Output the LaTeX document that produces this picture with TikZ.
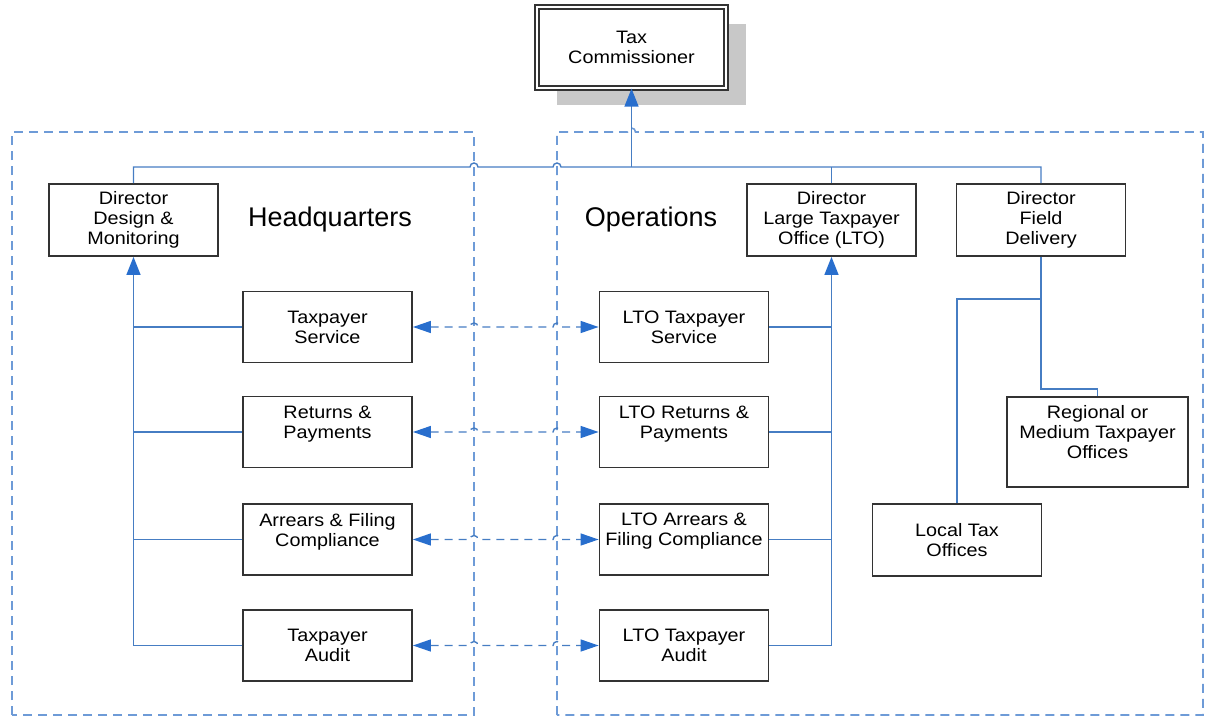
\documentclass[tikz,border=0pt]{standalone}
\usepackage{fontspec}
\setmainfont{Liberation Sans}
\newfontfamily\boxfont[FakeStretch=1.1]{Liberation Sans}
\usetikzlibrary{calc, positioning, arrows.meta, shadows}
\definecolor{LineBlue}{RGB}{70,125,195}
\definecolor{TipBlue}{RGB}{40,110,205}
\definecolor{FrameBlue}{RGB}{110,155,215}
\definecolor{ShadowGrey}{RGB}{200,200,200}

\tikzset{
  unit/.style={draw=black!80, line width=0.9pt, fill=white,
               minimum width=84.5pt, minimum height=35.5pt, inner sep=1pt,
               align=center, font=\boxfont\fontsize{9}{10}\selectfont},
  conn/.style={LineBlue, line width=0.7pt},
  uptip/.style={-{Triangle[length=9pt,width=7pt,color=TipBlue]}},
  link/.style={conn, dash pattern=on 4pt off 3pt,
               >={Triangle[length=9pt,width=6pt,color=TipBlue]}, <->},
  frame/.style={FrameBlue, line width=0.8pt, dash pattern=on 4.5pt off 3pt},
  wing/.style={font=\fontsize{13.5}{16}\selectfont}
}

\begin{document}
\begin{tikzpicture}[x=0.5pt, y=-0.5pt]
    \useasboundingbox (0,0) rectangle (1209,717);

    % Marcos
    \draw[frame] (12,715) -- (12,132) -- (474,132) -- (474,715) -- cycle;
    \draw[frame] (557,715) -- (557,132) -- (627.5,132)
        arc[start angle=180, end angle=0, radius=2pt] -- (1203,132) -- (1203,715) -- cycle;
    \coordinate (hqedge) at (474,0);
    \coordinate (opedge) at (557,0);
    \coordinate (bus) at (631.5,167);

    \node[wing] (hqlabel) at (330,220) {Headquarters};
    \node[wing] (oplabel) at (651,220) {Operations};

    % Cajas
    \node[unit, minimum width=94.5pt, minimum height=40.5pt, line width=0.6pt,
          double, double distance=1.4pt,
          drop shadow={shadow xshift=10pt, shadow yshift=-8.5pt, fill=ShadowGrey, opacity=1}]
          (tc) at (631.5,47.5) {Tax\\Commissioner};
    \node[unit, minimum height=36pt] (dirdm) at (133.5,220) {Director\\Design \&\\Monitoring};
    \node[unit, minimum height=36pt] (dirlto) at (831.5,220) {Director\\Large Taxpayer\\Office (LTO)};
    \node[unit, minimum height=36pt] (dirfd) at (1041,220) {Director\\Field\\Delivery};

    \node[unit] (hqts) at (327.5,327) {Taxpayer\\Service};
    \node[unit] (hqrp) at (327.5,432) {Returns \&\\Payments\\\mbox{}};
    \node[unit] (hqaf) at (327.5,539.5) {Arrears \& Filing\\Compliance\\\mbox{}};
    \node[unit] (hqta) at (327.5,645.5) {Taxpayer\\Audit};

    \node[unit] (ltots) at (684,327) {LTO Taxpayer\\Service};
    \node[unit] (ltorp) at (684,432) {LTO Returns \&\\Payments\\\mbox{}};
    \node[unit] (ltoaf) at (684,539.5) {LTO Arrears \&\\Filing Compliance\\\mbox{}};
    \node[unit] (ltota) at (684,645.5) {LTO Taxpayer\\Audit};

    \node[unit, minimum width=90.5pt, minimum height=45pt] (regional) at (1097.5,442)
          {Regional or\\Medium Taxpayer\\Offices\\\mbox{}};
    \node[unit, minimum height=36pt] (local) at (957,540) {Local Tax\\Offices};

    % Linea superior
    \draw[conn] (dirdm.north) |- ($(bus -| hqedge)+(-4,0)$)
        arc[start angle=180, end angle=0, radius=2pt] -- ($(bus -| opedge)+(-4,0)$)
        arc[start angle=180, end angle=0, radius=2pt] -- (bus -| dirfd.north) -- (dirfd.north);
    \draw[conn] (dirlto.north) -- (dirlto.north |- bus);
    \draw[conn, uptip] (bus) -- (tc.south);

    % Headquarters
    \draw[conn, uptip] (hqta.west) -| (dirdm.south);
    \draw[conn] (hqts.west) -- (hqts.west -| dirdm.south);
    \draw[conn] (hqrp.west) -- (hqrp.west -| dirdm.south);
    \draw[conn] (hqaf.west) -- (hqaf.west -| dirdm.south);

    % Operations
    \draw[conn, uptip] (ltota.east) -| (dirlto.south);
    \draw[conn] (ltots.east) -- (ltots.east -| dirlto.south);
    \draw[conn] (ltorp.east) -- (ltorp.east -| dirlto.south);
    \draw[conn] (ltoaf.east) -- (ltoaf.east -| dirlto.south);

    \draw[conn] (dirfd.south) -- ++(0,42) -| (local.north);
    \draw[conn] (dirfd.south) -- ++(0,132) -| (regional.north);

    % Enlaces punteados
    \foreach \b in {ts,rp,af,ta} {
        \draw[link] (hq\b.east) -- ($(hq\b.east -| hqedge)+(-4,0)$)
            arc[start angle=180, end angle=0, radius=2pt] -- ($(hq\b.east -| opedge)+(-4,0)$)
            arc[start angle=180, end angle=0, radius=2pt] -- (lto\b.west);
    }
\end{tikzpicture}
\end{document}
